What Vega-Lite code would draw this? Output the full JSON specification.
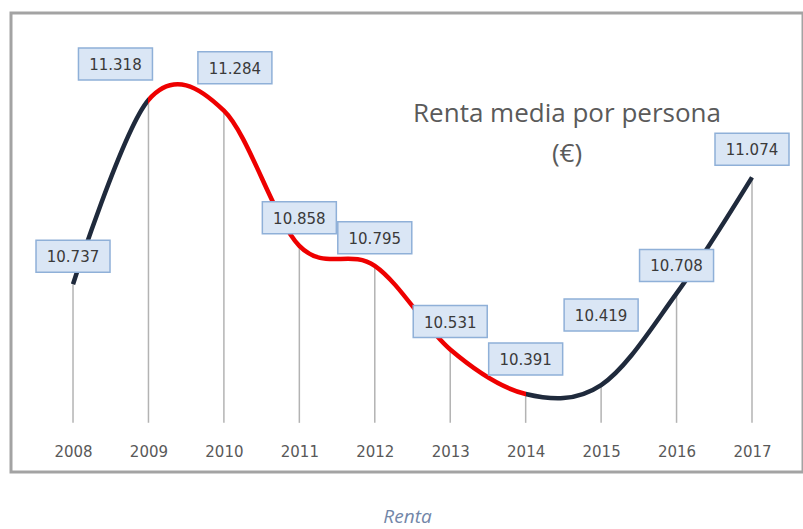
{
  "$schema": "https://vega.github.io/schema/vega-lite/v6.json",
  "width": 792,
  "height": 459,
  "autosize": "none",
  "padding": {"left": 11, "top": 13, "right": 0, "bottom": 57},
  "background": "white",
  "config": {
    "locale": {"number": {"decimal": ",", "thousands": ".", "grouping": [3], "currency": ["", " €"]}},
    "view": {"stroke": "#a3a3a3", "strokeWidth": 3}
  },
  "title": {
    "text": ["Renta media por persona", "(€)"],
    "anchor": "middle",
    "frame": "group",
    "baseline": "top",
    "offset": 0,
    "dx": 160,
    "dy": 154,
    "font": "Open Sans",
    "fontSize": 26,
    "fontWeight": "normal",
    "color": "#5a5a5a",
    "lineHeight": 40
  },
  "data": {
    "values": [
      {"year": 2008, "value": 10737},
      {"year": 2009, "value": 11318},
      {"year": 2010, "value": 11284},
      {"year": 2011, "value": 10858},
      {"year": 2012, "value": 10795},
      {"year": 2013, "value": 10531},
      {"year": 2014, "value": 10391},
      {"year": 2015, "value": 10419},
      {"year": 2016, "value": 10708},
      {"year": 2017, "value": 11074}
    ]
  },
  "encoding": {
    "x": {
      "field": "year",
      "type": "quantitative",
      "scale": {"domain": [2007.178, 2017.676], "nice": false, "zero": false},
      "axis": {
        "values": [2008, 2009, 2010, 2011, 2012, 2013, 2014, 2015, 2016, 2017],
        "format": "d",
        "domain": false,
        "ticks": false,
        "tickSize": 0,
        "grid": false,
        "offset": -16,
        "labelPadding": 0,
        "labelBaseline": "alphabetic",
        "labelFont": "DejaVu Sans",
        "labelFontSize": 15,
        "labelColor": "#595959",
        "title": "Renta",
        "titleFont": "Open Sans",
        "titleFontStyle": "italic",
        "titleFontWeight": "normal",
        "titleFontSize": 19,
        "titleColor": "#7286a8",
        "titleBaseline": "alphabetic",
        "titleY": 66
      }
    },
    "y": {
      "field": "value",
      "type": "quantitative",
      "scale": {"domain": [10145, 11592], "nice": false, "zero": false},
      "axis": null
    }
  },
  "layer": [
    {
      "mark": {"type": "rule", "color": "#b3b3b3", "strokeWidth": 1.5},
      "encoding": {"y2": {"datum": 10300}}
    },
    {
      "mark": {
        "type": "line",
        "interpolate": "cardinal",
        "strokeWidth": 4.5,
        "strokeCap": "butt",
        "stroke": {
          "gradient": "linear",
          "x1": 0, "y1": 0, "x2": 1, "y2": 0,
          "stops": [
            {"offset": 0, "color": "#1f2a3c"},
            {"offset": 0.1111, "color": "#1f2a3c"},
            {"offset": 0.1111, "color": "#ee0000"},
            {"offset": 0.6667, "color": "#ee0000"},
            {"offset": 0.6667, "color": "#1f2a3c"},
            {"offset": 1, "color": "#1f2a3c"}
          ]
        }
      },
      "encoding": {}
    },
    {
      "transform": [{"filter": {"field": "year", "oneOf": [2008, 2011, 2012, 2013, 2016, 2017]}}],
      "layer": [
        {
          "mark": {"type": "rect", "fill": "#dae6f5", "stroke": "#8fb0d8", "strokeWidth": 1.5, "xOffset": -37, "x2Offset": 37, "yOffset": -44, "y2Offset": -12},
          "encoding": {"x2": {"field": "year"}, "y2": {"field": "value"}}
        },
        {
          "mark": {"type": "text", "font": "DejaVu Sans", "fontSize": 15, "color": "#3a3a3a", "baseline": "middle", "yOffset": -27},
          "encoding": {"text": {"field": "value", "type": "quantitative", "format": ",d"}}
        }
      ]
    },
    {
      "transform": [{"filter": {"field": "year", "equal": 2014}}],
      "layer": [
        {
          "mark": {"type": "rect", "fill": "#dae6f5", "stroke": "#8fb0d8", "strokeWidth": 1.5, "xOffset": -37, "x2Offset": 37, "yOffset": -51, "y2Offset": -19},
          "encoding": {"x2": {"field": "year"}, "y2": {"field": "value"}}
        },
        {
          "mark": {"type": "text", "font": "DejaVu Sans", "fontSize": 15, "color": "#3a3a3a", "baseline": "middle", "yOffset": -34},
          "encoding": {"text": {"field": "value", "type": "quantitative", "format": ",d"}}
        }
      ]
    },
    {
      "transform": [{"filter": {"field": "year", "equal": 2009}}],
      "layer": [
        {
          "mark": {"type": "rect", "fill": "#dae6f5", "stroke": "#8fb0d8", "strokeWidth": 1.5, "xOffset": -70, "x2Offset": 4, "yOffset": -52, "y2Offset": -20},
          "encoding": {"x2": {"field": "year"}, "y2": {"field": "value"}}
        },
        {
          "mark": {"type": "text", "font": "DejaVu Sans", "fontSize": 15, "color": "#3a3a3a", "baseline": "middle", "xOffset": -33, "yOffset": -35},
          "encoding": {"text": {"field": "value", "type": "quantitative", "format": ",d"}}
        }
      ]
    },
    {
      "transform": [{"filter": {"field": "year", "equal": 2010}}],
      "layer": [
        {
          "mark": {"type": "rect", "fill": "#dae6f5", "stroke": "#8fb0d8", "strokeWidth": 1.5, "xOffset": -26, "x2Offset": 48, "yOffset": -59, "y2Offset": -27},
          "encoding": {"x2": {"field": "year"}, "y2": {"field": "value"}}
        },
        {
          "mark": {"type": "text", "font": "DejaVu Sans", "fontSize": 15, "color": "#3a3a3a", "baseline": "middle", "xOffset": 11, "yOffset": -42},
          "encoding": {"text": {"field": "value", "type": "quantitative", "format": ",d"}}
        }
      ]
    },
    {
      "transform": [{"filter": {"field": "year", "equal": 2015}}],
      "layer": [
        {
          "mark": {"type": "rect", "fill": "#dae6f5", "stroke": "#8fb0d8", "strokeWidth": 1.5, "xOffset": -37, "x2Offset": 37, "yOffset": -86, "y2Offset": -54},
          "encoding": {"x2": {"field": "year"}, "y2": {"field": "value"}}
        },
        {
          "mark": {"type": "text", "font": "DejaVu Sans", "fontSize": 15, "color": "#3a3a3a", "baseline": "middle", "yOffset": -69},
          "encoding": {"text": {"field": "value", "type": "quantitative", "format": ",d"}}
        }
      ]
    }
  ]
}
